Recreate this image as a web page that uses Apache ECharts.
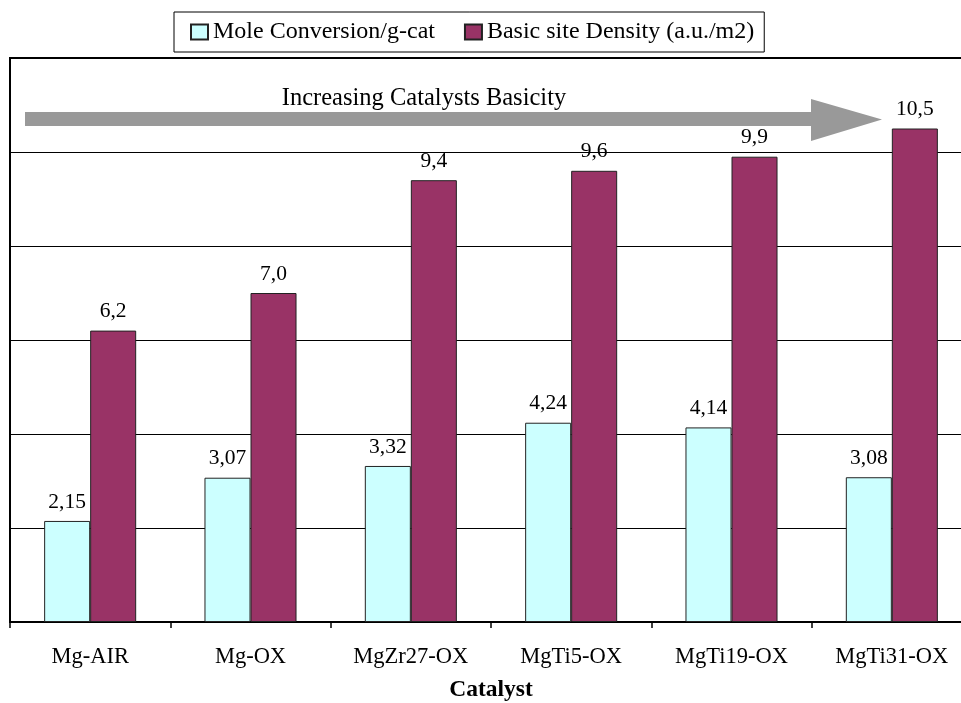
<!DOCTYPE html>
<html>
<head>
<meta charset="utf-8">
<script src="https://cdn.jsdelivr.net/npm/echarts@6/dist/echarts.min.js"></script>
<style>
  html, body { margin: 0; padding: 0; background: #ffffff; overflow: hidden; }
  #chart { width: 961px; height: 703px; }
</style>
</head>
<body>
<div id="chart"></div>
<script>
// Catalyst samples along the x axis
const catalysts = ['Mg-AIR', 'Mg-OX', 'MgZr27-OX', 'MgTi5-OX', 'MgTi19-OX', 'MgTi31-OX'];
// Mole conversion per gram of catalyst
const moleConversion = [2.15, 3.07, 3.32, 4.24, 4.14, 3.08];
// Basic site density (a.u./m2)
const basicSiteDensity = [6.2, 7.0, 9.4, 9.6, 9.9, 10.5];
// Value axis range (labels hidden, gridlines every step)
const yMin = 0, yMax = 12, yStep = 2;

const serif = "'Liberation Serif', 'Times New Roman', serif";
const chart = echarts.init(document.getElementById('chart'), null, { renderer: 'canvas' });

function comma(v, digits) {
  return v.toFixed(digits).replace('.', ',');
}

const option = {
  backgroundColor: '#ffffff',
  animation: false,
  textStyle: { fontFamily: serif, color: '#000' },
  legend: {
    left: 174,
    top: 12,
    padding: [8, 10, 8, 16],
    itemGap: 29,
    itemWidth: 17,
    itemHeight: 15,
    icon: 'rect',
    borderColor: '#000',
    borderWidth: 1,
    backgroundColor: '#fff',
    textStyle: { fontFamily: serif, fontSize: 24, color: '#000' },
    data: ['Mole Conversion/g-cat', 'Basic site Density (a.u./m2)']
  },
  grid: {
    left: 10,
    right: -11,          // plot frame continues past the right edge
    top: 58,
    bottom: 81,
    show: true,
    borderColor: '#000',
    borderWidth: 2,
    containLabel: false,
    outerBoundsMode: 'none'
  },
  xAxis: {
    type: 'category',
    data: catalysts,
    name: 'Catalyst',
    nameLocation: 'middle',
    nameGap: 56,
    nameTextStyle: { fontFamily: serif, fontSize: 23.5, fontWeight: 'bold', color: '#000' },
    axisLine: { lineStyle: { color: '#000', width: 2 } },
    axisTick: { show: true, length: 6, lineStyle: { color: '#000', width: 1.5 } },
    axisLabel: { margin: 24, fontFamily: serif, fontSize: 22.5, color: '#000' },
    splitLine: { show: false }
  },
  yAxis: {
    type: 'value',
    min: yMin,
    max: yMax,
    interval: yStep,
    axisLine: { show: true, lineStyle: { color: '#000', width: 2 } },
    axisTick: { show: false },
    axisLabel: { show: false },
    splitLine: { show: true, lineStyle: { color: '#000', width: 1 } }
  },
  series: [
    {
      name: 'Mole Conversion/g-cat',
      type: 'bar',
      data: moleConversion,
      barGap: '0%',
      barCategoryGap: '42.6%',
      itemStyle: { color: '#CCFFFF', borderColor: '#222', borderWidth: 1 },
      label: {
        show: true,
        position: 'top',
        distance: 8,
        fontFamily: serif,
        fontSize: 21.5,
        color: '#000',
        formatter: p => comma(p.value, 2)
      }
    },
    {
      name: 'Basic site Density (a.u./m2)',
      type: 'bar',
      data: basicSiteDensity,
      barGap: '0%',
      barCategoryGap: '42.6%',
      itemStyle: { color: '#993366', borderColor: '#222', borderWidth: 1 },
      label: {
        show: true,
        position: 'top',
        distance: 8,
        fontFamily: serif,
        fontSize: 21.5,
        color: '#000',
        formatter: p => comma(p.value, 1)
      }
    }
  ],
  graphic: [
    {
      // grey trend arrow across the top of the plot
      type: 'polygon',
      z: 100,
      shape: {
        points: [
          [25, 112], [811, 112], [811, 99], [882, 119.5],
          [811, 141], [811, 126], [25, 126]
        ]
      },
      style: { fill: '#999999', stroke: null }
    },
    {
      type: 'text',
      z: 100,
      x: 424,
      y: 99,
      style: {
        text: 'Increasing Catalysts Basicity',
        fontFamily: serif,
        fontSize: 24.5,
        fill: '#000',
        align: 'center',
        verticalAlign: 'middle'
      }
    }
  ]
};

chart.setOption(option);
</script>
</body>
</html>
